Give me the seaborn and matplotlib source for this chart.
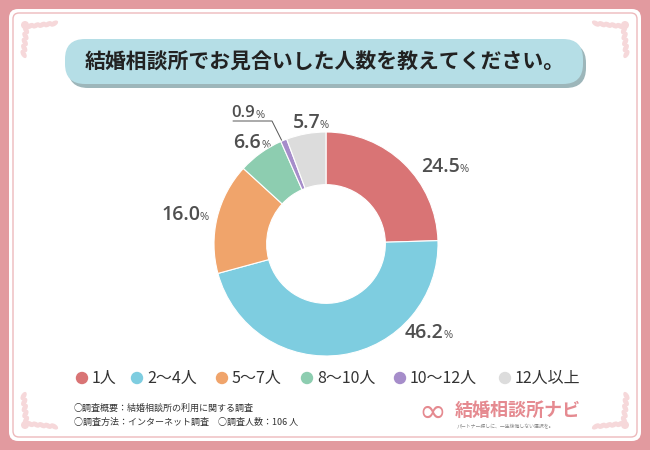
import matplotlib
matplotlib.use("Agg")
import matplotlib.pyplot as plt
import seaborn as sns
from matplotlib.patches import FancyBboxPatch, Circle, Ellipse

sns.set_theme(style="white")
plt.rcParams['font.family'] = ['Noto Sans CJK JP', 'DejaVu Sans']

title = "結婚相談所でお見合いした人数を教えてください。"
categories = ["1人", "2〜4人", "5〜7人", "8〜10人", "10〜12人", "12人以上"]
values = [24.5, 46.2, 16.0, 6.6, 0.9, 5.7]
colors = ["#D97475", "#7ECDE0", "#F0A46B", "#8DCDB0", "#A68DCA", "#DCDCDC"]
note_lines = ["○調査概要：結婚相談所の利用に関する調査",
              "○調査方法：インターネット調査　○調査人数：106 人"]
brand = "結婚相談所ナビ"
tagline = "パートナー探しに、一生後悔しない選択を。"

W, H = 650, 450
fig = plt.figure(figsize=(6.5, 4.5), dpi=100)
fig.patch.set_facecolor("#E29A9F")

bg = fig.add_axes([0, 0, 1, 1])
bg.set_xlim(0, W)
bg.set_ylim(H, 0)
bg.axis("off")
bg.add_patch(FancyBboxPatch((9, 9), W - 18, H - 18,
                            boxstyle="round,pad=0,rounding_size=9",
                            fc="white", ec="none"))
bg.add_patch(FancyBboxPatch((13, 13), W - 26, H - 26,
                            boxstyle="round,pad=0,rounding_size=6",
                            fc="white", ec="#EDB9BC", lw=1.0))

# corner ornaments (simple leaf sprays)
orn = "#F6D8DA"
def ornament(x0, y0, sx, sy):
    for i in range(5):
        bg.add_patch(Ellipse((x0 + sx * (10 + i * 6), y0 + sy * (6 - i * 0.6)), 9, 5,
                             angle=-sx * sy * 30, fc=orn, ec="none"))
        bg.add_patch(Ellipse((x0 + sx * (6 - i * 0.6), y0 + sy * (10 + i * 6)), 5, 9,
                             angle=-sx * sy * 30, fc=orn, ec="none"))
    bg.add_patch(Circle((x0 + sx * 5, y0 + sy * 5), 4, fc=orn, ec="none"))
ornament(20, 20, 1, 1)
ornament(630, 20, -1, 1)
ornament(20, 430, 1, -1)
ornament(630, 430, -1, -1)

# title pill with shadow
bg.add_patch(FancyBboxPatch((68, 43), 518, 45,
                            boxstyle="round,pad=0,rounding_size=20",
                            fc="#9DB6BA", ec="none"))
bg.add_patch(FancyBboxPatch((65, 39), 518, 45,
                            boxstyle="round,pad=0,rounding_size=20",
                            fc="#B5DEE6", ec="none"))
bg.text(325, 62, title, ha="center", va="center", fontsize=15,
        fontweight="bold", color="#222222")

# donut
cx, cy, R = 326, 244, 112
ax = fig.add_axes([(cx - R) / W, 1 - (cy + R) / H, 2 * R / W, 2 * R / H])
wedges, _ = ax.pie(values, colors=colors, startangle=90, counterclock=False,
                   wedgeprops=dict(width=0.47, edgecolor="white", linewidth=0.8))
ax.set_aspect("equal")
ax.set_xlim(-1, 1)
ax.set_ylim(-1, 1)

# percent labels
label_pos = [(460, 167), (443, 333), (200, 215), (261, 143), (255, 113), (320, 123)]
for i, (v, (x, y)) in enumerate(zip(values, label_pos)):
    fs = 12 if i == 4 else 14
    bg.text(x, y, f"{v:.1f}", ha="right", va="center", fontsize=fs,
            fontweight="semibold", color="#4F4F4F",
            family=["Open Sans", "DejaVu Sans"])
    bg.text(x, y + 2, "%", ha="left", va="center", fontsize=8,
            color="#4F4F4F", family=["Open Sans", "DejaVu Sans"])
# leader line for 0.9%
bg.plot([233, 272, 283], [121, 121, 143], color="#555555", lw=0.7)

# legend
leg_x = [82, 137, 222, 307, 400, 505]
for x, c, lab in zip(leg_x, colors, categories):
    bg.add_patch(Circle((x, 378), 6.2, fc=c, ec="none"))
    bg.text(x + 10, 378, lab, ha="left", va="center", fontsize=11.5,
            color="#333333")

# notes
bg.text(74, 408, note_lines[0], ha="left", va="center", fontsize=6.5, color="#333333")
bg.text(74, 422, note_lines[1], ha="left", va="center", fontsize=6.5, color="#333333")

# brand logo
bg.text(432, 412, "∞", ha="center", va="center", fontsize=24, color="#E58A90",
        family=["DejaVu Sans"])
bg.text(455, 410, brand, ha="left", va="center", fontsize=13, fontweight="bold",
        color="#E58A90")
bg.text(505, 427, tagline, ha="center", va="center", fontsize=3.5, color="#888888")

fig.savefig("out.png", dpi=100, facecolor=fig.get_facecolor())
